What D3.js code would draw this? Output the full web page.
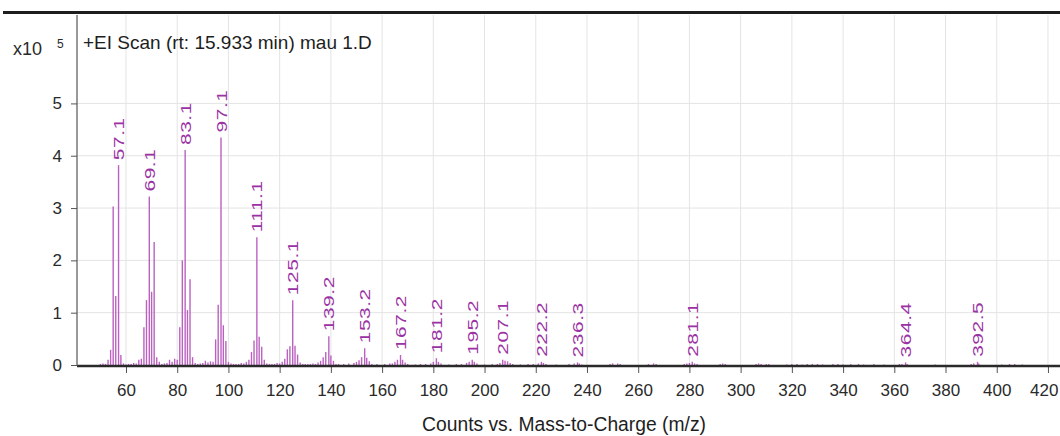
<!DOCTYPE html>
<html><head><meta charset="utf-8">
<script src="https://cdn.jsdelivr.net/npm/d3@7"></script>
<style>
body{margin:0;background:#fff;}
svg{display:block;font-family:Arial,"Liberation Sans",sans-serif;}
</style>
</head><body>
<svg id="c" width="1060" height="436"></svg>
<script>
// m/z of each stick (labelled peaks carry their exact label mass)
const massValues = [
 50,51,52,53,54,55,56,57.1,58,59,60,61,62,63,64,65,66,67,68,69.1,70,71,72,73,74,75,76,77,78,79,80,
 81,82,83.1,84,85,86,87,88,89,90,91,92,93,94,95,96,97.1,98,99,100,101,102,103,104,105,106,107,108,
 109,110,111.1,112,113,114,115,116,117,118,119,120,121,122,123,124,125.1,126,127,128,129,130,131,132,
 133,134,135,136,137,138,139.2,140,141,142,143,145,147,149,150,151,152,153.2,154,155,156,158,161,163,
 164,165,166,167.2,168,169,170,173,175,177,179,180,181.2,182,183,186,189,191,193,194,195.2,196,197,
 200,203,205,206,207.1,208,209,210,211,214,217,219,221,222.2,223,224,228,233,235,236.3,237,238,
 249,250,252,253,264,266,267,278,279,280,281.1,282,283,292,293,294,306,307,308,310,311,318,320,322,
 324,326,328,330,332,336,338,340,343,346,348,352,356,362,363,364.4,365,376,390,391,392.5,393,402,405,407,410
];
// intensity in units of 10^5 counts
const intensityValues = [
 0.02,0.03,0.02,0.10,0.29,3.03,1.32,3.82,0.19,0.03,0.01,0.02,0.02,0.04,0.03,0.10,0.12,0.72,1.24,3.22,1.40,2.35,0.15,0.06,0.02,0.03,0.04,0.10,0.06,0.12,0.10,
 0.72,2.00,4.11,1.05,1.64,0.15,0.04,0.02,0.03,0.04,0.08,0.05,0.07,0.06,0.49,1.15,4.35,0.76,0.46,0.06,0.03,0.02,0.02,0.02,0.04,0.03,0.06,0.10,
 0.25,0.47,2.44,0.54,0.35,0.10,0.03,0.02,0.02,0.02,0.04,0.03,0.06,0.12,0.30,0.36,1.24,0.37,0.20,0.05,0.02,0.02,0.02,0.02,
 0.03,0.02,0.05,0.08,0.15,0.25,0.55,0.18,0.08,0.02,0.02,0.02,0.03,0.04,0.06,0.09,0.15,0.32,0.14,0.07,0.02,0.02,0.02,0.03,
 0.03,0.06,0.10,0.19,0.10,0.05,0.02,0.01,0.02,0.02,0.03,0.06,0.13,0.06,0.03,0.01,0.02,0.02,0.04,0.06,0.10,0.06,0.03,
 0.01,0.02,0.02,0.04,0.10,0.08,0.07,0.04,0.02,0.01,0.02,0.02,0.03,0.06,0.04,0.02,0.01,0.02,0.03,0.05,0.03,0.01,
 0.02,0.03,0.03,0.02,0.02,0.03,0.02,0.02,0.03,0.04,0.06,0.03,0.02,0.02,0.03,0.02,0.02,0.03,0.02,0.02,0.02,0.01,0.02,0.02,
 0.01,0.02,0.02,0.02,0.01,0.02,0.02,0.01,0.02,0.02,0.01,0.02,0.01,0.02,0.02,0.05,0.02,0.01,0.02,0.03,0.06,0.03,0.01,0.02,0.02,0.01
];
const peakLabels = ["57.1","69.1","83.1","97.1","111.1","125.1","139.2","153.2","167.2","181.2","195.2","207.1","222.2","236.3","281.1","364.4","392.5"];
const xTickValues = [60,80,100,120,140,160,180,200,220,240,260,280,300,320,340,360,380,400,420];
const yTickValues = [0,1,2,3,4,5];
const titleText = "+EI Scan (rt: 15.933 min) mau 1.D";
const xAxisTitle = "Counts vs. Mass-to-Charge (m/z)";

const FONT = "Arial,'Liberation Sans',sans-serif";
const svg = d3.select("#c");
const x = d3.scaleLinear().domain([40.87, 424.7]).range([77, 1060]);
const y = d3.scaleLinear().domain([0, 6.69]).range([365, 15]);
const [pl, pr] = x.range();
const [pb, pt] = y.range();

// top rule
svg.append("line").attr("x1", 3).attr("x2", 1060).attr("y1", 12.5).attr("y2", 12.5)
  .attr("stroke", "#1e1e1e").attr("stroke-width", 3);

// grid
svg.append("g").selectAll("line").data(xTickValues).join("line")
  .attr("x1", d => x(d)).attr("x2", d => x(d)).attr("y1", pt).attr("y2", pb)
  .attr("stroke", "#e4e4e4").attr("stroke-width", 1);
svg.append("g").selectAll("line").data(yTickValues.filter(d => d > 0)).join("line")
  .attr("x1", pl).attr("x2", pr).attr("y1", d => y(d)).attr("y2", d => y(d))
  .attr("stroke", "#e4e4e4").attr("stroke-width", 1);

// sticks
const data = massValues.map((m, i) => ({m, v: intensityValues[i]}));
svg.append("g").selectAll("line").data(data).join("line")
  .attr("x1", d => x(d.m)).attr("x2", d => x(d.m))
  .attr("y1", y(0)).attr("y2", d => y(d.v))
  .attr("stroke", "#bb62c0").attr("stroke-width", 1.4);

// peak labels
const labelled = peakLabels.map(t => data.find(d => d.m === +t));
svg.append("g").selectAll("text").data(labelled).join("text")
  .attr("transform", d => `translate(${x(d.m)},${y(d.v) - 5}) rotate(-90) scale(1.35,1)`)
  .attr("dy", "0.36em")
  .attr("text-anchor", "start")
  .attr("fill", "#9a32a4")
  .style("font-size", "15.5px")
  .style("letter-spacing", "0.4px")
  .text(d => d.m.toFixed(1));

// axes
const xAxis = d3.axisBottom(x).tickValues(xTickValues).tickSize(7).tickPadding(11).tickFormat(d3.format("d"));
const gx = svg.append("g").attr("transform", `translate(0,${pb + 1})`).call(xAxis);
gx.select(".domain").remove();
gx.selectAll(".tick line").attr("stroke", "#555");
gx.selectAll(".tick text").attr("fill", "#2a2a2a").style("font-size", "17px").style("font-family", FONT)
  .filter(d => d === 420).attr("text-anchor", "end").attr("dx", "10");
svg.append("line").attr("x1", pl).attr("x2", pr).attr("y1", pb + 1).attr("y2", pb + 1)
  .attr("stroke", "#2a2a2a").attr("stroke-width", 2.5);

const yAxis = d3.axisLeft(y).tickValues(yTickValues).tickSize(6).tickPadding(9).tickFormat(d3.format("d"));
const gy = svg.append("g").attr("transform", `translate(${pl},0)`).call(yAxis);
gy.select(".domain").remove();
gy.selectAll(".tick line").attr("stroke", "#555");
gy.selectAll(".tick text").attr("fill", "#2a2a2a").style("font-size", "17px").style("font-family", FONT);
svg.append("line").attr("x1", pl).attr("x2", pl).attr("y1", pt).attr("y2", pb + 1)
  .attr("stroke", "#555").attr("stroke-width", 1.2);

// texts
svg.append("text").attr("x", 83).attr("y", 49).attr("fill", "#1e1e1e").style("font-size", "19px").text(titleText);
svg.append("text").attr("x", 13).attr("y", 55).attr("fill", "#2a2a2a").style("font-size", "18px").text("x10");
svg.append("text").attr("x", 57).attr("y", 48).attr("fill", "#2a2a2a").style("font-size", "12px").text("5");
svg.append("text").attr("x", 564).attr("y", 431).attr("text-anchor", "middle").attr("fill", "#1e1e1e").style("font-size", "19.3px").text(xAxisTitle);
</script>
</body></html>
